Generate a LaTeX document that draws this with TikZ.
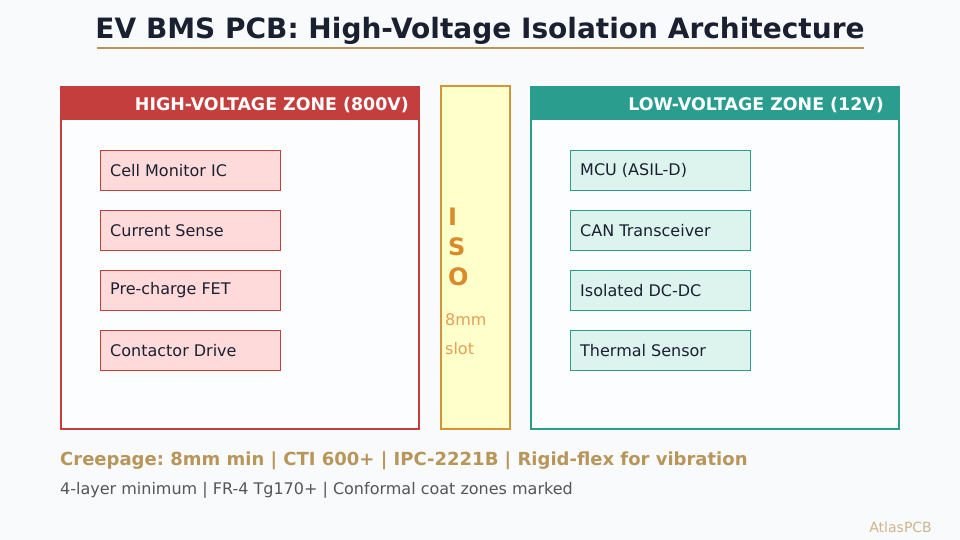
\documentclass[tikz,border=0pt]{standalone}
\usepackage{fontspec}
\setmainfont{DejaVu Sans}
\usepackage{tikz}
\usetikzlibrary{positioning}
\frenchspacing

\definecolor{bgc}{HTML}{F8FAFC}
\definecolor{ink}{HTML}{1A2030}
\definecolor{gold}{HTML}{B8965A}
\definecolor{hvred}{HTML}{C43E3E}
\definecolor{hvfill}{HTML}{FFDADA}
\definecolor{lvteal}{HTML}{2A9D8F}
\definecolor{lvfill}{HTML}{DDF4EE}
\definecolor{isofill}{HTML}{FFFFCC}
\definecolor{isoedge}{HTML}{D4943A}
\definecolor{isotxt}{HTML}{D98A2B}
\definecolor{greytxt}{HTML}{555555}

\tikzset{
  zonebox/.style={draw=#1,line width=2.5pt,fill=white!60!bgc},
  zonehead/.style={font=\bfseries\fontsize{17.4}{20}\selectfont,text=white,anchor=east,inner sep=0pt},
  partbox/.style={draw=#1,line width=0.8pt,minimum width=180pt,minimum height=40pt,anchor=north west},
  parttext/.style={font=\fontsize{16}{19}\selectfont,text=ink,anchor=west,inner sep=0pt}
}

\begin{document}
\begin{tikzpicture}[x=1pt,y=-1pt]
  \fill[bgc] (0,0) rectangle (960,540);
  \useasboundingbox (0,0) rectangle (960,540);
  % title
  \node[font=\bfseries\fontsize{28}{32}\selectfont,text=ink] (title) at (480,31) {EV BMS PCB: High-Voltage Isolation Architecture};
  \draw[gold,line width=2pt] (97,48) -- (864,48);
  % high-voltage side
  \draw[zonebox=hvred] (61,87) rectangle (419,429);
  \fill[hvred] (61,87) rectangle (419,120);
  \node[zonehead] (hvhead) at (409,105) {HIGH-VOLTAGE ZONE (800V)};
  \foreach \t [count=\i from 0] in {Cell Monitor IC,Current Sense,Pre-charge FET,Contactor Drive}{
    \node[partbox=hvred,fill=hvfill] (hv\i) at (100,150+60*\i) {};
    \node[parttext] (hvt\i) at (110,170.5+60*\i) {\t};
  }
  % isolation slot
  \draw[isoedge,fill=isofill,line width=1.6pt] (441,86) rectangle (510,429);
  \foreach \c [count=\i from 0] in {I,S,O}{
    \node[font=\bfseries\fontsize{24}{28}\selectfont,text=isotxt,anchor=west,inner sep=0pt] (iso\i) at (448,217+30*\i) {\c};
  }
  \node[font=\fontsize{16}{19}\selectfont,text=isotxt!80,anchor=west,inner sep=0pt] (gap) at (445,320) {8mm};
  \node[font=\fontsize{16}{19}\selectfont,text=isotxt!80,anchor=west,inner sep=0pt] (slot) at (445,349) {slot};
  % low-voltage side
  \draw[zonebox=lvteal] (531,87) rectangle (899,429);
  \fill[lvteal] (531,87) rectangle (899,120);
  \node[zonehead] (lvhead) at (884,105) {LOW-VOLTAGE ZONE (12V)};
  \foreach \t [count=\i from 0] in {MCU (ASIL-D),CAN Transceiver,Isolated DC-DC,Thermal Sensor}{
    \node[partbox=lvteal,fill=lvfill] (lv\i) at (570,150+60*\i) {};
    \node[parttext] (lvt\i) at (580,170.5+60*\i) {\t};
  }
  % notes
  \node[font=\bfseries\fontsize{18}{21}\selectfont,text=gold,anchor=west,inner sep=0pt] (rules) at (60,461) {Creepage: 8mm min | CTI 600+ | IPC-2221B | Rigid-flex for vibration};
  \node[font=\fontsize{16}{19}\selectfont,text=greytxt,anchor=west,inner sep=0pt] (stack) at (60,490) {4-layer minimum | FR-4 Tg170+ | Conformal coat zones marked};
  \node[font=\fontsize{14}{17}\selectfont,text=gold!70,anchor=east,inner sep=0pt] (brand) at (932,527) {AtlasPCB};
\end{tikzpicture}
\end{document}
